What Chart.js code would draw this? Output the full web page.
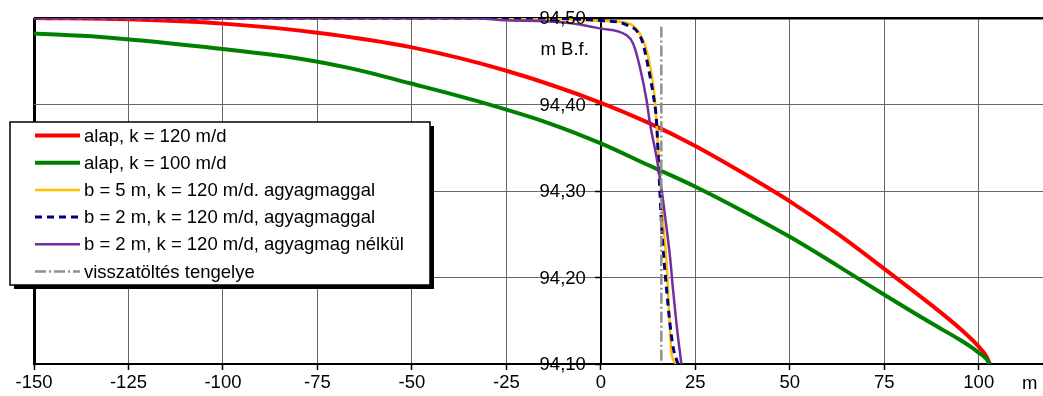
<!DOCTYPE html>
<html>
<head>
<meta charset="utf-8">
<script src="https://cdn.jsdelivr.net/npm/chart.js@4/dist/chart.umd.min.js"></script>
<style>
  body { margin: 0; background: #fff; }
  #wrap { width: 1043px; height: 396px; }
</style>
</head>
<body>
<div id="wrap"><canvas id="myChart" width="1043" height="396"></canvas></div>
<script>
// distance along the section (m) and water level (m B.f.)
const redX = [-150, -125, -100, -75, -50, -25, 0, 12.5, 25, 37.5, 50, 62.5, 75, 87.5, 95, 100, 102, 102.9];
const redY = [94.500, 94.4985, 94.4935, 94.483, 94.466, 94.439, 94.402, 94.379, 94.352, 94.321, 94.288, 94.251, 94.210, 94.168, 94.141, 94.120, 94.109, 94.10];

const greenX = [-150, -132.5, -106, -79.6, -66.4, -50.5, -32, -13.5, 0, 12.5, 25, 37.5, 50, 62.5, 75, 87.5, 95, 98.5, 100, 102, 102.9];
const greenY = [94.482, 94.478, 94.467, 94.453, 94.442, 94.4245, 94.403, 94.378, 94.355, 94.330, 94.305, 94.277, 94.247, 94.214, 94.180, 94.147, 94.128, 94.118, 94.113, 94.106, 94.10];

const yellowX = [-150, -20, 0, 6.8, 10.3, 12.1, 13.4, 14.3, 15.6, 16.5, 17.4, 18.3, 18.7, 20];
const yellowY = [94.50, 94.50, 94.4965, 94.4946, 94.482, 94.463, 94.436, 94.405, 94.320, 94.263, 94.216, 94.139, 94.112, 94.10];

const navyX = [-150, -20, 0, 6.8, 10.8, 12.5, 13.8, 14.7, 15.4, 16.2, 17.4, 18.2, 19.1, 20.4];
const navyY = [94.50, 94.50, 94.497, 94.492, 94.475, 94.444, 94.413, 94.382, 94.32, 94.25, 94.186, 94.15, 94.12, 94.10];

const purpleX = [-150, -35, -26.7, -9.1, -0.3, 6.8, 8.5, 10.3, 12.1, 13, 14.7, 16.1, 16.9, 18.3, 19.1, 20, 21.3];
const purpleY = [94.50, 94.50, 94.4977, 94.4946, 94.488, 94.480, 94.4708, 94.4437, 94.405, 94.378, 94.340, 94.301, 94.274, 94.224, 94.186, 94.147, 94.10];

const axisX = [16, 16];
const axisY = [94.49, 94.10];

const labels = [
    'alap, k = 120 m/d',
    'alap, k = 100 m/d',
    'b = 5 m, k = 120 m/d. agyagmaggal',
    'b = 2 m, k = 120 m/d, agyagmaggal',
    'b = 2 m, k = 120 m/d, agyagmag nélkül',
    'visszatöltés tengelye'
];

const FONT = 'Liberation Sans, Arial, sans-serif';
const FSIZE = 18.5;

function pts(xs, ys) {
    return xs.map((x, i) => ({x: x, y: ys[i]}));
}

function line(label, xs, ys, color, width, dash, order) {
    return {
        label: label,
        data: pts(xs, ys),
        borderColor: color,
        backgroundColor: color,
        borderWidth: width,
        borderDash: dash,
        pointRadius: 0,
        fill: false,
        cubicInterpolationMode: 'monotone',
        order: order
    };
}

// y tick labels sit left of the axis at x = 0, legend box inside the plot
const extras = {
    id: 'extras',
    afterDraw(chart) {
        const c = chart.ctx;
        const ys = chart.scales.y;
        const xs = chart.scales.x;
        c.save();
        c.font = FSIZE + 'px ' + FONT;
        c.fillStyle = '#000';
        c.textBaseline = 'middle';
        c.textAlign = 'right';
        const ax = xs.getPixelForValue(0);
        ys.ticks.forEach(t => {
            c.fillText(t.value.toFixed(2).replace('.', ','), ax - 15, ys.getPixelForValue(t.value) + 1);
        });
        c.fillText('m B.f.', ax - 12, 50);
        c.textAlign = 'left';
        c.fillText('m', 1022, 384);

        const x0 = 10, y0 = 122, w = 420, h = 163;
        c.fillStyle = '#000';
        c.fillRect(x0 + 4, y0 + 4, w, h);
        c.fillStyle = '#fff';
        c.fillRect(x0, y0, w, h);
        c.strokeStyle = '#000';
        c.lineWidth = 1.5;
        c.strokeRect(x0, y0, w, h);

        chart.data.datasets.forEach((ds, i) => {
            const y = 135.5 + i * 27.2;
            c.beginPath();
            c.strokeStyle = ds.borderColor;
            c.lineWidth = ds.borderWidth;
            c.setLineDash(ds.borderDash || []);
            c.moveTo(35, y);
            c.lineTo(80, y);
            c.stroke();
            c.setLineDash([]);
            c.fillStyle = '#000';
            c.fillText(ds.label, 84, y + 1);
        });
        c.restore();
    }
};

const ctx = document.getElementById('myChart');
const myChart = new Chart(ctx, {
    type: 'line',
    data: {
        datasets: [
            line(labels[0], redX, redY, '#ff0000', 4, [], 6),
            line(labels[1], greenX, greenY, '#008000', 4, [], 5),
            line(labels[2], yellowX, yellowY, '#ffc000', 2.5, [], 4),
            line(labels[3], navyX, navyY, '#000080', 3, [7, 5], 3),
            line(labels[4], purpleX, purpleY, '#7030a0', 2.5, [], 2),
            line(labels[5], axisX, axisY, '#909090', 2.5, [11, 3, 2, 3], 1)
        ]
    },
    options: {
        responsive: false,
        animation: false,
        layout: {padding: {left: 34, top: 18, right: 0, bottom: 0}},
        plugins: {
            legend: {display: false},
            tooltip: {enabled: false}
        },
        scales: {
            x: {
                type: 'linear',
                min: -150,
                max: 117,
                afterBuildTicks: (scale) => {
                    scale.ticks = scale.ticks.filter(t => Math.abs(t.value % 25) < 1e-6);
                },
                afterFit: (scale) => { scale.height = 32; },
                ticks: {
                    stepSize: 25,
                    color: '#000',
                    padding: 2,
                    maxRotation: 0,
                    font: {family: FONT, size: FSIZE}
                },
                grid: {
                    color: (c) => c.tick && c.tick.value === -150 ? '#000' : '#666',
                    lineWidth: (c) => c.tick && c.tick.value === -150 ? 3 : 1,
                    tickLength: 6,
                    tickColor: '#000',
                    tickWidth: 1.5
                },
                border: {display: true, color: '#000', width: 2}
            },
            y: {
                type: 'linear',
                min: 94.10,
                max: 94.50,
                position: {x: 0},
                ticks: {
                    stepSize: 0.1,
                    display: false
                },
                grid: {
                    color: (c) => c.tick && Math.abs(c.tick.value - 94.5) < 1e-6 ? '#000' : '#666',
                    lineWidth: (c) => c.tick && Math.abs(c.tick.value - 94.5) < 1e-6 ? 2.5 : 1,
                    tickLength: 5,
                    tickColor: '#000',
                    tickWidth: 1.5
                },
                border: {display: true, color: '#000', width: 2}
            }
        }
    },
    plugins: [extras]
});
</script>
</body>
</html>
